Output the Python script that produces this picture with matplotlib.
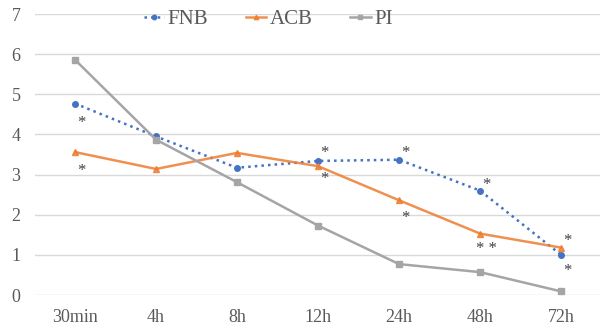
import matplotlib.pyplot as plt

plt.rcParams['font.family'] = ['Liberation Serif', 'DejaVu Serif']

times = ['30min', '4h', '8h', '12h', '24h', '48h', '72h']
fnb = [4.77, 3.95, 3.17, 3.34, 3.37, 2.60, 1.00]
acb = [3.56, 3.14, 3.54, 3.21, 2.36, 1.53, 1.18]
pi = [5.86, 3.87, 2.81, 1.73, 0.77, 0.57, 0.09]

# significance marks: (category index, y value, text)
stars = [(0, 4.28, '*'), (0, 3.10, '*'),
         (3, 3.55, '*'), (3, 2.88, '*'),
         (4, 3.55, '*'), (4, 1.92, '*'),
         (5, 2.75, '*'), (5, 1.15, '* *'),
         (6, 1.35, '*'), (6, 0.60, '*')]

fig = plt.figure(figsize=(6, 3.29), dpi=100)
ax = fig.add_axes([0.0575, 0.1033, 0.9425, 0.8541])

x = range(len(times))
ax.plot(x, fnb, color='#4472C4', linestyle=':', linewidth=1.8,
        marker='o', markersize=4, label='FNB')
ax.plot(x, acb, color='#ED7D31', linestyle='-', linewidth=1.8,
        marker='^', markersize=4, label='ACB', alpha=0.85)
ax.plot(x, pi, color='#A5A5A5', linestyle='-', linewidth=1.8,
        marker='s', markersize=4, label='PI')

for i, yv, s in stars:
    ax.text(i + 0.08, yv, s, ha='center', va='center', fontsize=12, color='#404040')

ax.set_xlim(-0.5, 6.48)
ax.set_ylim(0, 7)
ax.set_xticks(list(x))
ax.set_xticklabels(times)
ax.set_yticks(range(8))
ax.grid(axis='y', color='#D9D9D9', linewidth=1)
ax.set_axisbelow(True)
for sp in ax.spines.values():
    sp.set_visible(False)
ax.tick_params(length=0, labelsize=13, labelcolor='#595959', pad=10)

ax.legend(loc='center', bbox_to_anchor=(0.413, 0.98), ncol=3, frameon=False,
          fontsize=15, labelcolor='#595959', handlelength=1.0, columnspacing=1.8,
          handletextpad=0.15, markerscale=0.8)

fig.savefig('out.png', dpi=100)
